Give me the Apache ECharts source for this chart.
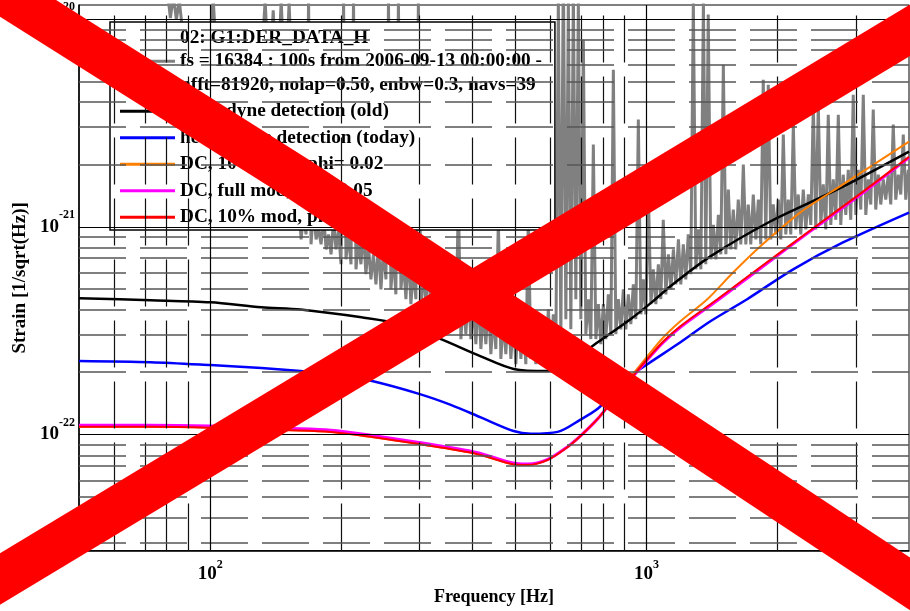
<!DOCTYPE html>
<html><head><meta charset="utf-8">
<script src="https://cdn.jsdelivr.net/npm/echarts@6/dist/echarts.min.js"></script>
<style>html,body{margin:0;padding:0;background:#fff}#c{width:910px;height:611px}</style>
</head><body><div id="c"></div>
<script>
// ---- axis ranges & ticks (Hz / strain) ----
const X_MIN = 50, X_MAX = 4000;
const Y_MIN = 2.765e-23, Y_MAX = 1.167e-20;
const X_LABEL_DECADES = [2, 3];
const Y_LABEL_DECADES = [-22, -21, -20];
const X_MAJOR_GRID = [100, 1000];
const X_MINOR_GRID = [60, 70, 80, 90, 200, 300, 400, 500, 600, 700, 800, 900, 2000, 3000];
const Y_MAJOR_GRID = [1e-22, 1e-21, 1e-20];
const Y_MINOR_GRID = [3e-23, 4e-23, 5e-23, 6e-23, 7e-23, 8e-23, 9e-23,
  2e-22, 3e-22, 4e-22, 5e-22, 6e-22, 7e-22, 8e-22, 9e-22,
  2e-21, 3e-21, 4e-21, 5e-21, 6e-21, 7e-21, 8e-21, 9e-21];

// ---- legend names ----
const NAME_GRAY = '02: G1:DER_DATA_H\nfs = 16384 : 100s from 2006-09-13 00:00:00 -\nnfft=81920, nolap=0.50, enbw=0.3, navs=39';
const NAME_BLACK = 'homodyne detection (old)';
const NAME_BLUE = 'heterodyne detection (today)';
const NAME_ORANGE = 'DC, 10% mod, phi= 0.02';
const NAME_MAGENTA = 'DC, full mod, phi= 0.05';
const NAME_RED = 'DC, 10% mod, phi= 0.05';

// ---- data: [frequency Hz, strain 1/sqrt(Hz)] ----
const GRAY_LOW = [
 [50,6.5e-20],[59.4,5.2e-20],[69.5,3.7e-20],[77.3,2.4e-20],[79.7,1.38e-20],[81.0,1.01e-20],[82.3,1.3e-20],[83.6,9.9e-21],
 [84.9,1.23e-20],[86.3,8.9e-21],[88.6,5.7e-21],[91.4,6.4e-21],[95.4,5.1e-21],[98.4,6.4e-21],[101.6,1.23e-20],[103.8,5.4e-21],
 [107.1,4.6e-21],[111.7,4.1e-21],[117.7,4.3e-21],[124.1,3.7e-21],[129.5,4.1e-21],[133.6,1.23e-20],[136.5,4.6e-21],[139.4,1.1e-20],
 [142.3,4.3e-21],[145.4,1.23e-20],[148.5,4.1e-21],[151.6,1.2e-20],[154.9,3.7e-21]
];
const GRAY_MID = [
 [161.5,8.69e-22],[163.6,1.14e-21],[165.8,9.19e-22],[168.0,1.23e-20],[170.2,8.23e-22],[172.5,1.21e-21],[174.8,8.69e-22],
 [177.1,9.71e-22],[179.5,8.23e-22],[181.9,1.14e-21],[184.3,7.78e-22],[186.7,9.19e-22],[189.2,7.37e-22],[191.7,1.08e-21],
 [194.2,7.78e-22],[196.8,9.71e-22],[199.4,6.60e-22],[202.1,1.23e-20],[204.7,6.97e-22],[207.4,9.19e-22],[210.2,6.60e-22],
 [213.0,1.23e-20],[215.8,6.24e-22],[218.7,8.69e-22],[221.5,6.60e-22],[224.5,9.71e-22],[227.4,5.91e-22],[230.4,8.23e-22],
 [233.5,5.58e-22],[236.6,7.37e-22],[239.8,5.28e-22],[243.0,8.23e-22],[246.2,5.00e-22],[249.5,7.78e-22],[252.8,5.58e-22],
 [256.2,1.23e-20],[259.5,5.00e-22],[263.0,7.37e-22],[266.4,4.73e-22],[270.0,1.23e-20],[273.6,5.00e-22],[277.2,6.97e-22],
 [280.9,4.48e-22],[284.6,7.78e-22],[288.4,4.24e-22],[292.2,6.24e-22],[296.1,4.48e-22],[300.0,1.23e-20],[304.0,4.01e-22],
 [308.0,6.24e-22],[312.1,4.24e-22],[316.3,6.97e-22],[320.5,3.79e-22],[324.8,5.91e-22],[329.0,4.01e-22],[333.4,6.60e-22],
 [337.9,3.59e-22],[342.4,5.28e-22],[346.9,3.40e-22],[351.5,6.24e-22],[356.2,3.21e-22],[360.9,4.73e-22],[365.7,3.40e-22],
 [370.6,1.35e-21],[375.5,2.88e-22],[380.5,4.48e-22],[385.5,3.04e-22],[390.6,5.00e-22],[395.8,2.88e-22],[401.1,4.24e-22],
 [406.4,2.72e-22],[411.8,4.73e-22],[417.3,2.58e-22],[422.8,4.01e-22],[428.4,2.72e-22],[434.1,4.48e-22],[439.9,2.44e-22],
 [445.7,3.79e-22],[451.6,2.58e-22],[457.6,1.08e-21],[463.7,2.31e-22],[469.9,3.59e-22],[476.1,2.44e-22],[482.4,4.24e-22],
 [488.9,2.31e-22],[495.4,3.59e-22],[501.9,2.18e-22],[508.6,4.01e-22],[515.4,2.31e-22],[522.2,3.40e-22],[529.1,2.18e-22],
 [536.1,1.14e-21],[543.3,2.31e-22],[550.5,3.40e-22],[557.8,2.18e-22],[565.2,3.79e-22],[572.7,2.31e-22],[580.3,3.59e-22],
 [588.0,2.44e-22],[595.8,4.01e-22],[603.8,2.44e-22],[611.8,3.79e-22],[619.9,2.58e-22]
];
const GRAY_HIGH = [
 [628.1,1.23e-20],[636.5,2.88e-22],[644.9,1.82e-20],[653.5,3.59e-22],[662.2,1.23e-20],[671.0,3.21e-22],[679.9,1.38e-20],
 [688.9,4.48e-22],[698.1,1.23e-20],[707.4,3.59e-22],[716.8,7.93e-21],[726.3,3.04e-22],[735.9,4.48e-22],[745.7,2.88e-22],
 [755.6,2.49e-21],[765.7,2.88e-22],[775.9,4.24e-22],[786.1,2.72e-22],[796.6,4.24e-22],[807.1,2.88e-22],[817.8,4.73e-22],
 [828.8,3.04e-22],[839.8,5.69e-21],[850.9,3.04e-22],[862.2,4.48e-22],[873.7,3.21e-22],[885.3,5.00e-22],[897.0,3.21e-22],
 [908.9,4.73e-22],[921.0,3.40e-22],[933.2,5.28e-22],[945.6,3.59e-22],[958.2,3.28e-21],[971.0,3.79e-22],[983.9,5.58e-22],
 [996.9,3.79e-22],[1010,1.51e-21],[1024,4.24e-22],[1037,6.24e-22],[1051,4.24e-22],[1065,6.60e-22],[1079,4.48e-22],
 [1093,1.08e-21],[1108,4.73e-22],[1123,7.37e-22],[1138,5.00e-22],[1153,7.78e-22],[1168,5.28e-22],[1184,8.69e-22],
 [1199,5.28e-22],[1215,8.23e-22],[1231,5.58e-22],[1247,9.19e-22],[1264,5.91e-22],[1281,1.23e-20],[1298,6.24e-22],
 [1315,9.71e-22],[1333,6.24e-22],[1351,1.23e-20],[1368,6.60e-22],[1386,1.05e-20],[1405,6.97e-22],[1424,1.02e-21],
 [1443,6.97e-22],[1462,1.14e-21],[1481,7.37e-22],[1501,6.02e-21],[1521,7.37e-22],[1541,1.51e-21],[1561,7.78e-22],
 [1582,1.21e-21],[1603,7.78e-22],[1624,1.35e-21],[1646,8.23e-22],[1668,1.99e-21],[1690,8.23e-22],[1712,1.28e-21],
 [1735,8.23e-22],[1758,1.43e-21],[1782,8.69e-22],[1806,1.35e-21],[1829,8.23e-22],[1853,5.10e-21],[1878,8.69e-22],
 [1903,4.82e-21],[1928,8.69e-22],[1954,1.28e-21],[1980,9.19e-22],[2006,1.35e-21],[2033,8.69e-22],[2060,2.78e-21],
 [2087,9.19e-22],[2115,1.35e-21],[2143,9.19e-22],[2172,3.10e-21],[2200,9.71e-22],[2229,1.43e-21],[2259,9.19e-22],
 [2289,1.51e-21],[2320,9.71e-22],[2351,1.43e-21],[2382,1.02e-21],[2414,3.87e-21],[2445,9.71e-22],[2478,3.87e-21],
 [2511,1.02e-21],[2544,1.60e-21],[2578,9.71e-22],[2612,3.46e-21],[2647,1.02e-21],[2682,1.69e-21],[2718,1.08e-21],
 [2754,3.46e-21],[2790,1.02e-21],[2827,1.78e-21],[2865,1.14e-21],[2903,1.88e-21],[2941,1.08e-21],[2980,4.32e-21],
 [3020,1.14e-21],[3060,1.88e-21],[3101,1.21e-21],[3142,4.32e-21],[3184,1.14e-21],[3226,1.69e-21],[3269,1.28e-21],
 [3312,3.66e-21],[3356,1.21e-21],[3401,1.78e-21],[3446,1.28e-21],[3492,1.69e-21],[3538,1.35e-21],[3585,1.78e-21],
 [3633,1.28e-21],[3681,3.10e-21],[3730,1.35e-21],[3780,1.78e-21],[3830,1.43e-21],[3881,2.78e-21],[3932,1.35e-21],
 [3985,1.88e-21],[4037,1.51e-21]
];
const BLACK = [
 [50,4.53e-22],[73,4.43e-22],[100,4.33e-22],[131,4.1e-22],[161,4.0e-22],[222,3.67e-22],[274,3.4e-22],[338,2.88e-22],
 [417,2.38e-22],[496,2.07e-22],[594,2.02e-22],[646,2.14e-22],[773,2.78e-22],[919,3.59e-22],[1038,4.4e-22],[1135,5.17e-22],
 [1402,7.2e-22],[1922,1.06e-21],[2596,1.43e-21],[3089,1.72e-21],[4000,2.3e-21]
];
const BLUE = [
 [50,2.26e-22],[73,2.23e-22],[100,2.16e-22],[131,2.09e-22],[161,2.02e-22],[199,1.93e-22],[235,1.81e-22],[301,1.57e-22],
 [356,1.39e-22],[417,1.21e-22],[496,1.04e-22],[543,1.01e-22],[626,1.03e-22],[706,1.18e-22],[773,1.33e-22],[841,1.6e-22],
 [919,1.91e-22],[1005,2.18e-22],[1178,2.72e-22],[1402,3.51e-22],[1702,4.48e-22],[2170,6.24e-22],[2823,8.4e-22],[4000,1.17e-21]
];
const ORANGE = [
 [50,1.09e-22],[73,1.09e-22],[100,1.08e-22],[153,1.05e-22],[189,1.03e-22],[235,9.74e-23],[301,9.0e-23],[408,8.07e-23],
 [491,7.22e-23],[534,7.14e-23],[594,7.55e-23],[660,8.72e-23],[706,9.85e-23],[773,1.19e-22],[841,1.49e-22],[919,1.89e-22],
 [1005,2.38e-22],[1094,2.94e-22],[1196,3.51e-22],[1379,4.48e-22],[1582,6.04e-22],[1823,8.04e-22],[2251,1.17e-21],
 [2823,1.6e-21],[3378,2.04e-21],[4000,2.57e-21]
];
const MAGENTA = [
 [50,1.11e-22],[73,1.11e-22],[100,1.1e-22],[153,1.07e-22],[189,1.05e-22],[235,9.9e-23],[301,9.15e-23],[408,8.2e-23],
 [491,7.32e-23],[534,7.22e-23],[594,7.6e-23],[660,8.75e-23],[706,9.85e-23],[773,1.19e-22],[841,1.48e-22],[919,1.84e-22],
 [1005,2.29e-22],[1094,2.78e-22],[1196,3.28e-22],[1454,4.42e-22],[1823,6.3e-22],[2373,9.5e-22],[3089,1.42e-21],[4000,2.15e-21]
];
const RED = [
 [50,1.09e-22],[73,1.09e-22],[100,1.08e-22],[153,1.05e-22],[189,1.03e-22],[235,9.74e-23],[301,9.0e-23],[408,8.07e-23],
 [491,7.22e-23],[534,7.14e-23],[594,7.55e-23],[660,8.72e-23],[706,9.85e-23],[773,1.19e-22],[841,1.48e-22],[919,1.85e-22],
 [1005,2.31e-22],[1094,2.81e-22],[1196,3.32e-22],[1454,4.48e-22],[1823,6.38e-22],[2373,9.6e-22],[3089,1.44e-21],[4000,2.17e-21]
];

// ---- build ----
const LOG = Math.log10;
const toXY = pairs => pairs.map(p => [LOG(p[0]), LOG(p[1])]);
const FONT = 'Liberation Serif';
const DASH = [47, 14];
const GRAY = GRAY_LOW.concat(GRAY_MID, GRAY_HIGH);

const gridMarks = [].concat(
  X_MINOR_GRID.map(v => ({ xAxis: LOG(v), lineStyle: { color: '#111', width: 1.2, type: DASH } })),
  Y_MINOR_GRID.map(v => ({ yAxis: LOG(v), lineStyle: { color: '#555', width: 1.6, type: DASH } })),
  X_MAJOR_GRID.map(v => ({ xAxis: LOG(v), lineStyle: { color: '#000', width: 1.2, type: 'solid' } })),
  Y_MAJOR_GRID.map(v => ({ yAxis: LOG(v), lineStyle: { color: '#000', width: 1.2, type: 'solid' } }))
);

function curve(name, pairs, color, width, smooth) {
  return {
    type: 'line', name: name, data: toXY(pairs), symbol: 'none', showSymbol: false,
    smooth: smooth, clip: true, z: 2, animation: false,
    lineStyle: { color: color, width: width }, itemStyle: { color: color }
  };
}

function labelRich(lh) {
  return {
    b: { fontFamily: FONT, fontWeight: 'bold', fontSize: 19, lineHeight: lh, color: '#000' },
    s: { fontFamily: FONT, fontWeight: 'bold', fontSize: 12, lineHeight: 14, verticalAlign: 'top', color: '#000' }
  };
}

const chart = echarts.init(document.getElementById('c'), null, { renderer: 'canvas' });
chart.setOption({
  animation: false,
  backgroundColor: '#fff',
  grid: { left: 79, top: 5, right: 1, bottom: 59, show: true, borderColor: '#000', borderWidth: 1, backgroundColor: 'transparent' },
  xAxis: {
    type: 'value', min: LOG(X_MIN), max: LOG(X_MAX),
    name: 'Frequency [Hz]', nameLocation: 'middle', nameGap: 37,
    nameTextStyle: { fontFamily: FONT, fontWeight: 'bold', fontSize: 18, color: '#000' },
    axisLine: { show: true, lineStyle: { color: '#000', width: 1.5 } },
    axisTick: { show: false }, splitLine: { show: false },
    axisLabel: {
      customValues: X_LABEL_DECADES, margin: 8,
      formatter: v => '{b|10}{s|' + Math.round(v) + '}', rich: labelRich(30)
    }
  },
  yAxis: {
    type: 'value', min: LOG(Y_MIN), max: LOG(Y_MAX),
    name: 'Strain [1/sqrt(Hz)]', nameLocation: 'middle', nameGap: 49,
    nameTextStyle: { fontFamily: FONT, fontWeight: 'bold', fontSize: 19, color: '#000' },
    axisLine: { show: true, lineStyle: { color: '#000', width: 1.5 } },
    axisTick: { show: false }, splitLine: { show: false },
    axisLabel: {
      customValues: Y_LABEL_DECADES, margin: 4,
      formatter: v => '{b|10}{s|' + Math.round(v) + '}', rich: labelRich(36)
    }
  },
  legend: {
    orient: 'vertical', left: 110, top: 22, itemGap: 3, itemWidth: 55, itemHeight: 3, icon: 'rect',
    padding: [4, 13, 1, 10], backgroundColor: '#fff', borderColor: '#000', borderWidth: 1.5, borderRadius: 0,
    selectedMode: false,
    textStyle: { fontFamily: FONT, fontWeight: 'bold', fontSize: 19.3, lineHeight: 23.5, color: '#000' },
    data: [NAME_GRAY, NAME_BLACK, NAME_BLUE, NAME_ORANGE, NAME_MAGENTA, NAME_RED]
  },
  series: [
    {
      type: 'line', name: '__grid', data: [], symbol: 'none', z: 1, silent: true,
      markLine: { silent: true, symbol: ['none', 'none'], label: { show: false }, animation: false, data: gridMarks }
    },
    curve(NAME_GRAY, GRAY, '#808080', 3, false),
    curve(NAME_BLACK, BLACK, '#000000', 2.5, 0.3),
    curve(NAME_BLUE, BLUE, '#0000ff', 2.5, 0.3),
    curve(NAME_ORANGE, ORANGE, '#ff8000', 2, 0.3),
    curve(NAME_MAGENTA, MAGENTA, '#ff00ff', 3, 0.3),
    curve(NAME_RED, RED, '#ff0000', 2, 0.3)
  ],
  graphic: [
    { type: 'polyline', silent: true, z: 100, shape: { points: [[-20, -22], [300, 180], [930, 597]] }, style: { stroke: '#ff0000', lineWidth: 44, lineJoin: 'round', fill: null } },
    { type: 'line', silent: true, z: 100, shape: { x1: -20, y1: 591.1, x2: 930, y2: 18.2 }, style: { stroke: '#ff0000', lineWidth: 44 } }
  ]
});
</script>
</body></html>
